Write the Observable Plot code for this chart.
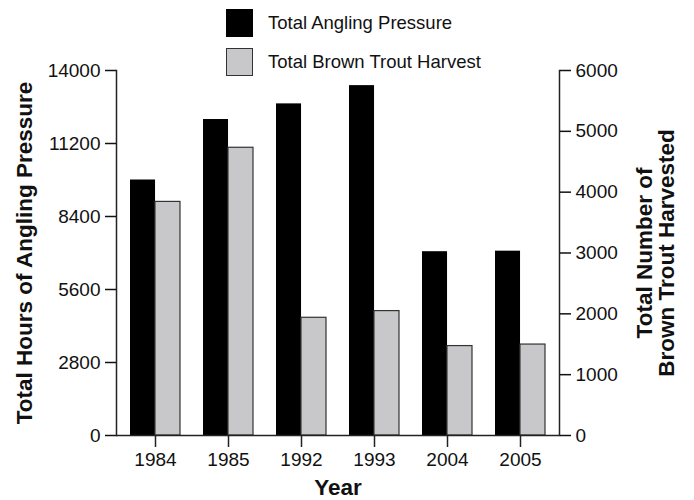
<!DOCTYPE html>
<html>
<head>
<meta charset="utf-8">
<script src="https://cdn.jsdelivr.net/npm/d3@7"></script>
<script src="https://cdn.jsdelivr.net/npm/@observablehq/plot@0.6"></script>
<style>
  html, body { margin: 0; padding: 0; background: white; }
  #wrap { position: relative; width: 694px; height: 500px; font-family: "Liberation Sans", Arial, Helvetica, sans-serif; }
  .legend { position: absolute; left: 226px; top: 9px; }
  .item { display: flex; align-items: center; height: 28px; margin-bottom: 11px; font-size: 18.5px; color: #111; }
  .sw { width: 27px; height: 28px; box-sizing: border-box; margin-right: 15px; }
</style>
</head>
<body>
<div id="wrap">
  <div id="chart"></div>
  <div class="legend">
    <div class="item"><div class="sw" style="background:#000;border:1.5px solid #000"></div>Total Angling Pressure</div>
    <div class="item"><div class="sw" style="background:#c8c8ca;border:1.5px solid #333"></div>Total Brown Trout Harvest</div>
  </div>
</div>
<script>
const years = ["1984", "1985", "1992", "1993", "2004", "2005"];
const anglingHours = [9800, 12120, 12720, 13420, 7050, 7070];
const troutHarvest = [3840, 4730, 1935, 2045, 1470, 1495];
const leftTicks = [0, 2800, 5600, 8400, 11200, 14000];
const rightTicks = [0, 1000, 2000, 3000, 4000, 5000, 6000];
const leftMax = 14000;
const rightMax = 6000;
const ratio = leftMax / rightMax;

const data = years.map((year, i) => ({year, hours: anglingHours[i], harvest: troutHarvest[i]}));

const W = 694, H = 500;
const mL = 116, mR = 135, mT = 70, mB = 65;
const padIn = 0.32, padOut = 0.177;

const xs = Plot.scale({x: {type: "band", domain: years, range: [mL, W - mR], paddingInner: padIn, paddingOuter: padOut}});
const bw = xs.bandwidth;

const chart = Plot.plot({
  width: W,
  height: H,
  marginLeft: mL,
  marginRight: mR,
  marginTop: mT,
  marginBottom: mB,
  style: {fontFamily: "'Liberation Sans', Arial, Helvetica, sans-serif", fontSize: "19px", background: "white", color: "#111"},
  x: {type: "band", domain: years, paddingInner: padIn, paddingOuter: padOut},
  y: {domain: [0, leftMax]},
  marks: [
    Plot.barY(data, {x: "year", y: "hours", fill: "#000", insetRight: bw / 2}),
    Plot.barY(data, {x: "year", y: d => d.harvest * ratio, fill: "#c8c8ca", stroke: "#333", strokeWidth: 1.2, insetLeft: bw / 2}),
    Plot.frame({anchor: "left", stroke: "#222", strokeWidth: 1.5}),
    Plot.frame({anchor: "right", stroke: "#222", strokeWidth: 1.5}),
    Plot.ruleY([0], {stroke: "#222", strokeWidth: 1.5}),
    Plot.axisX({tickSize: 12, tickPadding: 5, label: null, stroke: "#222", strokeWidth: 1.5}),
    Plot.axisY({ticks: leftTicks, tickFormat: d => String(d), tickSize: 11, tickPadding: 5, label: null, strokeWidth: 1.5}),
    Plot.axisY({anchor: "right", ticks: rightTicks.map(v => v * ratio), tickFormat: d => String(Math.round(d / ratio)), tickSize: 11, tickPadding: 5, label: null, strokeWidth: 1.5}),
    Plot.text(["Total Hours of Angling Pressure"], {text: d => d, frameAnchor: "left", dx: -92, rotate: -90, textAnchor: "middle", lineAnchor: "middle", fontSize: 22.5, fontWeight: "bold", fill: "#111"}),
    Plot.text(["Total Number of\nBrown Trout Harvested"], {text: d => d, frameAnchor: "right", dx: 96, rotate: -90, textAnchor: "middle", lineAnchor: "middle", fontSize: 22.5, fontWeight: "bold", fill: "#111", lineHeight: 0.98}),
    Plot.text(["Year"], {text: d => d, frameAnchor: "bottom", dy: 52, textAnchor: "middle", lineAnchor: "middle", fontSize: 22.5, fontWeight: "bold", fill: "#111"})
  ]
});
document.getElementById("chart").appendChild(chart);
</script>
</body>
</html>
